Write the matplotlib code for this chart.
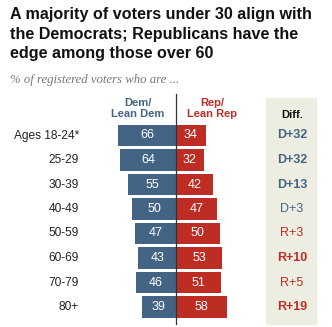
import matplotlib
matplotlib.use("Agg")
import matplotlib.pyplot as plt
from matplotlib.patches import Rectangle

ages = ["Ages 18-24*", "25-29", "30-39", "40-49", "50-59", "60-69", "70-79", "80+"]
dem = [66, 64, 55, 50, 47, 43, 46, 39]
rep = [34, 32, 42, 47, 50, 53, 51, 58]
significant = [True, True, True, False, False, True, False, True]

BLUE = "#436485"
RED = "#bd2d24"
DIFF_BG = "#eeede2"

plt.rcParams["font.family"] = ["Liberation Sans", "DejaVu Sans"]

W, H = 332, 327
fig = plt.figure(figsize=(W / 100, H / 100), dpi=100)
ax = fig.add_axes([0, 0, 1, 1])

# pixel layout -> data units
cx, ppu = 176, 0.875
row0, step = 135.5, 24.5
ax.set_xlim(-cx / ppu, (W - cx) / ppu)
ax.set_ylim((H - row0) / step, -row0 / step)
ax.axis("off")


def px_x(p):
    return (p - cx) / ppu


def px_y(p):
    return (p - row0) / step


y = list(range(len(ages)))
ax.add_patch(Rectangle((px_x(266), px_y(98)), px_x(316) - px_x(266),
                       px_y(324) - px_y(98), color=DIFF_BG, zorder=0))

ax.barh(y, [-d for d in dem], height=0.86, color=BLUE, zorder=2)
ax.barh(y, rep, height=0.86, color=RED, zorder=2)
ax.plot([0, 0], [px_y(94), px_y(324)], color="#333333", lw=0.9, zorder=3)

for i in y:
    ax.text(-dem[i] / 2, i, str(dem[i]), color="white", fontsize=9,
            ha="center", va="center", zorder=4)
    ax.text(rep[i] / 2, i, str(rep[i]), color="white", fontsize=9,
            ha="center", va="center", zorder=4)
    ax.text(px_x(79), i, ages[i], color="#222222", fontsize=8.6,
            ha="right", va="center")
    gap = dem[i] - rep[i]
    label = f"D+{gap}" if gap > 0 else f"R+{-gap}"
    ax.text(px_x(292), i, label, color=BLUE if gap > 0 else RED, fontsize=9,
            ha="center", va="center",
            fontweight="bold" if significant[i] else "normal")

ax.text(px_x(138), px_y(108.5), "Dem/\nLean Dem", color=BLUE, fontsize=8,
        fontweight="bold", ha="center", va="center", linespacing=1.15)
ax.text(px_x(212), px_y(108.5), "Rep/\nLean Rep", color=RED, fontsize=8,
        fontweight="bold", ha="center", va="center", linespacing=1.15)
ax.text(px_x(292), px_y(115), "Diff.", color="#111111", fontsize=8,
        fontweight="bold", ha="center", va="center")

fig.text(10 / W, 1 - 7 / H,
         "A majority of voters under 30 align with\nthe Democrats; Republicans have the\nedge among those over 60",
         fontsize=11.6, fontweight="bold", color="#111111", ha="left", va="top",
         linespacing=1.38)
fig.text(10 / W, 1 - 80 / H, "% of registered voters who are ...",
         family=["Liberation Serif", "DejaVu Serif"], style="italic",
         fontsize=9.2, color="#777777", ha="left", va="center")

fig.savefig("out.png", dpi=100)
